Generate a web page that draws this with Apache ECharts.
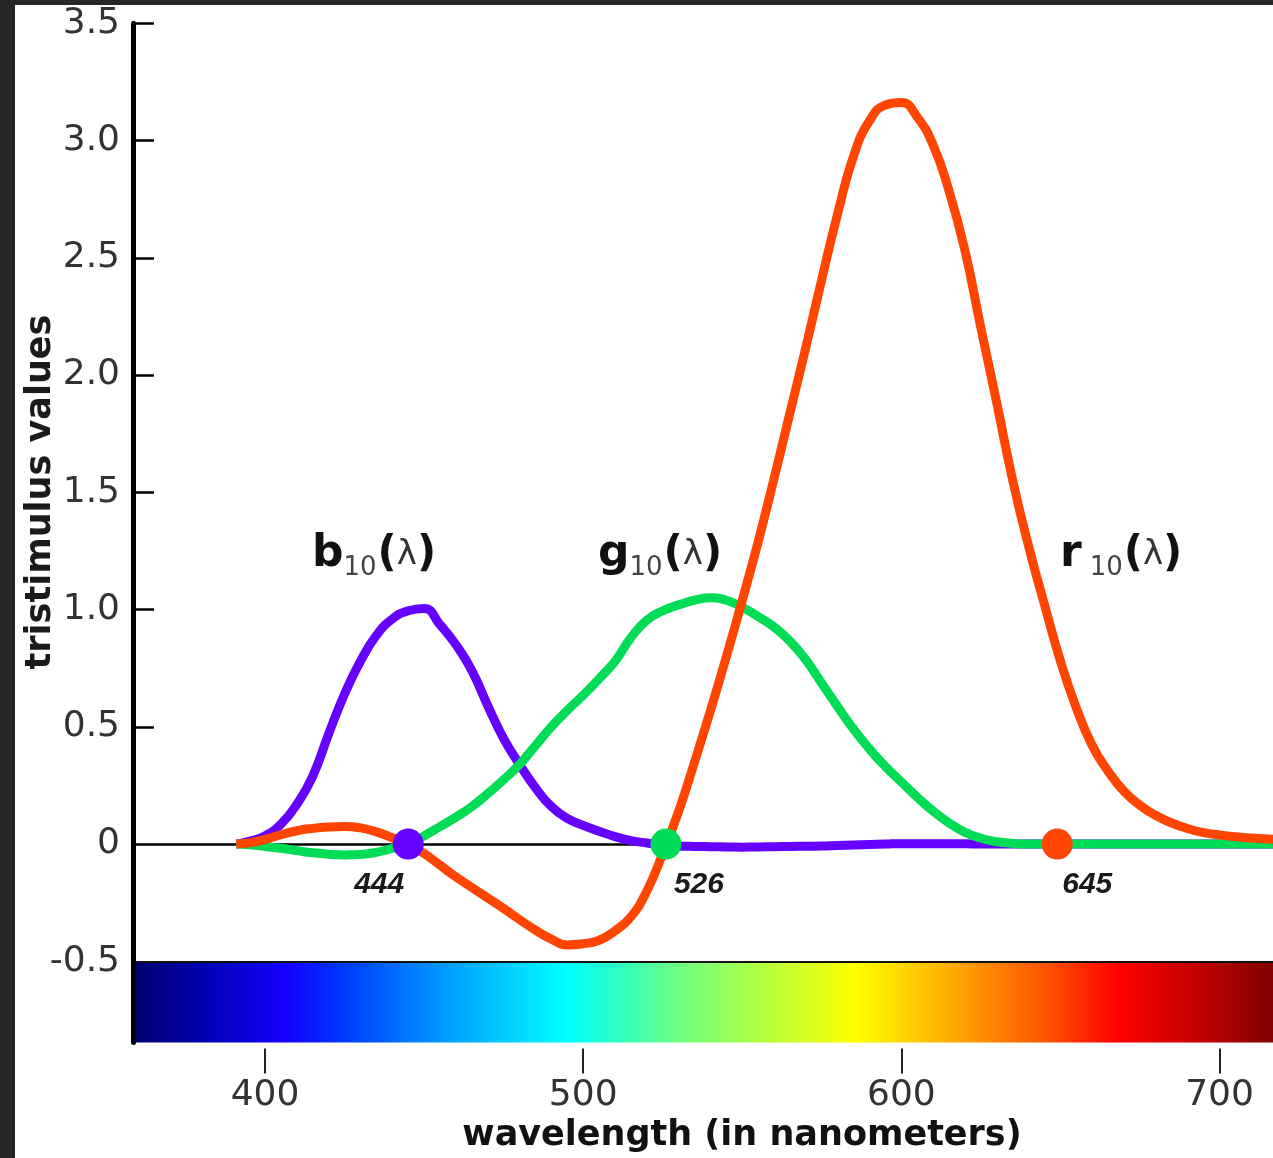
<!DOCTYPE html>
<html><head><meta charset="utf-8">
<script src="https://cdn.jsdelivr.net/npm/echarts@6/dist/echarts.min.js"></script>
<style>
html,body{margin:0;padding:0;background:#272727;width:1273px;height:1158px;overflow:hidden}
#chart{position:absolute;left:15px;top:5px;width:1258px;height:1153px;background:#fff}
</style></head><body><div id="chart"></div>
<script>
// ---- data ----
const wavelengths = [391,395,400,405,410,415,420,425,430,435,440,445,450,455,460,465,470,475,480,485,490,495,500,505,510,515,520,525,530,535,540,545,550,555,560,565,570,575,580,585,590,595,600,605,610,615,620,625,630,635,640,645,650,655,660,665,670,675,680,685,690,695,700,705,710,715,717];
const rValues = [0,0.005,0.02,0.04,0.057,0.067,0.073,0.075,0.069,0.052,
  0.027,0,-0.04,-0.09,-0.14,-0.185,-0.23,-0.275,-0.322,-0.367,
  -0.405,-0.43,-0.425,-0.41,-0.37,-0.31,-0.2,-0.04,0.14,0.35,
  0.57,0.8,1.04,1.29,1.56,1.84,2.12,2.41,2.69,2.935,
  3.085,3.152,3.162,3.1,2.98,2.785,2.53,2.2,1.88,1.55,
  1.27,1.02,0.78,0.58,0.42,0.31,0.225,0.165,0.122,0.09,
  0.066,0.049,0.039,0.031,0.026,0.022,0.021];
const gValues = [0,-0.003,-0.01,-0.018,-0.028,-0.037,-0.043,-0.046,-0.044,-0.035,
  -0.018,0,0.035,0.075,0.115,0.16,0.215,0.275,0.34,0.42,
  0.5,0.57,0.635,0.705,0.78,0.88,0.955,0.995,1.02,1.04,
  1.05,1.04,1.01,0.97,0.925,0.865,0.785,0.685,0.585,0.49,
  0.405,0.33,0.265,0.2,0.14,0.09,0.05,0.025,0.01,0.003,
  0,0,0,0,0,0,0,0,0,0,0,0,0,0,0,0,0];
const bValues = [0,0.012,0.035,0.085,0.17,0.29,0.47,0.64,0.78,0.89,
  0.96,0.995,1.005,0.935,0.85,0.74,0.59,0.45,0.34,0.24,
  0.16,0.11,0.08,0.055,0.032,0.015,0.005,-0.002,-0.008,-0.01,
  -0.011,-0.012,-0.013,-0.012,-0.011,-0.01,-0.009,-0.008,-0.006,-0.004,
  -0.002,0,0.002,0.002,0.002,0.001,0.001,0,0,0,
  0,0,0,0,0,0,0,0,0,0,0,0,0,0,0,0,0];
const markerNm = [445, 526, 649];
const markerLabels = ['444', '526', '645'];
const xTicks = [400, 500, 600, 700];
const yTicks = [-0.5, 0, 0.5, 1.0, 1.5, 2.0, 2.5, 3.0, 3.5];
const spectrumNm = [358.5, 381.7, 406.8, 421.4, 442.4, 458.1, 494.9, 511.6, 530.4, 555.6, 585.7, 617.5, 646.7, 668, 693.8, 716.8];
const spectrumColors = ['#000070','#0000b4','#1400ff','#0030ff','#0070ff','#00a0ff','#00ffff','#30ffc0','#70ff80','#b0ff40','#ffff00','#ffa500','#ff5000','#ff0000','#c00000','#800000'];

// ---- styles ----
const X_MIN = 358.5, X_MAX = 716.8, Y_MIN = -0.846, Y_MAX = 3.5;
const RED = '#ff4500', GREEN = '#00dc55', BLUE = '#6600ff';
const markerColors = [BLUE, GREEN, RED];
const markerOffsets = [[-29, 41], [33, 41], [30, 41]];
const FONT = 'DejaVu Sans';

const chart = echarts.init(document.getElementById('chart'), null, {renderer: 'canvas'});
const pairs = vals => wavelengths.map((w, i) => [w, vals[i]]);
const stops = spectrumNm.map((n, i) => ({offset: (n - X_MIN) / (X_MAX - X_MIN), color: spectrumColors[i]}));

const richFor = (padLeft) => ({
  m: {fontSize: 44, fontWeight: 'bold', fontFamily: FONT, fill: '#111', lineHeight: 52},
  s: {fontSize: 26, fontFamily: FONT, fill: '#444', lineHeight: 16, verticalAlign: 'bottom', padding: [0, 1, 0, padLeft]},
  p: {fontSize: 42, fontWeight: 'bold', fontFamily: FONT, fill: '#111', lineHeight: 52},
  l: {fontSize: 34, fontFamily: FONT, fill: '#333', lineHeight: 52}
});
const annot = (letter, x, pad) => ({
  type: 'text', x: x, y: 550, z: 20,
  style: {text: '{m|' + letter + '}{s|10}{p|(}{l|λ}{p|)}', verticalAlign: 'middle', align: 'left', rich: richFor(pad)}
});

chart.setOption({
  animation: false,
  backgroundColor: '#ffffff',
  grid: {left: 118, right: 0, top: 18.3, bottom: 115.5, containLabel: false},
  xAxis: {
    type: 'value', min: X_MIN, max: X_MAX, offset: 6, z: 10,
    axisLine: {show: false, onZero: false},
    axisTick: {show: true, customValues: xTicks, length: 25, lineStyle: {color: '#222', width: 2}},
    axisLabel: {customValues: xTicks, margin: 29, fontSize: 36, fontFamily: FONT, color: '#333'},
    splitLine: {show: false}
  },
  yAxis: {
    type: 'value', min: Y_MIN, max: Y_MAX, z: 10,
    axisLine: {show: true, onZero: false, lineStyle: {color: '#000', width: 5}},
    axisTick: {show: true, inside: true, customValues: yTicks.filter(v => v > 0), length: 21, lineStyle: {color: '#000', width: 2.5}},
    axisLabel: {customValues: yTicks, margin: 13, fontSize: 36, fontFamily: FONT, color: '#333',
      formatter: v => (Math.abs(v) < 1e-9 ? '0' : v.toFixed(1))},
    splitLine: {show: false}
  },
  series: [
    {
      type: 'line', data: [], z: 1, silent: true,
      markArea: {
        silent: true, z: 0,
        itemStyle: {color: {type: 'linear', x: 0, y: 0, x2: 1, y2: 0, colorStops: stops}},
        data: [[{coord: [X_MIN, Y_MIN]}, {coord: [X_MAX, -0.5]}]]
      },
      markLine: {
        silent: true, z: 1, symbol: ['none', 'none'], label: {show: false},
        data: [
          {yAxis: 0, lineStyle: {color: '#000', width: 2.5, type: 'solid'}},
          {yAxis: -0.5, lineStyle: {color: '#111', width: 2, type: 'solid'}}
        ]
      }
    },
    {type: 'line', name: 'b10', data: pairs(bValues), smooth: 0.5, symbol: 'none', z: 3,
      lineStyle: {color: BLUE, width: 9}},
    {type: 'line', name: 'g10', data: pairs(gValues), smooth: 0.5, symbol: 'none', z: 4,
      lineStyle: {color: GREEN, width: 9}},
    {type: 'line', name: 'r10', data: pairs(rValues), smooth: 0.5, symbol: 'none', z: 5,
      lineStyle: {color: RED, width: 9}},
    {
      type: 'scatter', z: 10, symbol: 'circle', symbolSize: 31,
      itemStyle: {opacity: 1},
      data: markerNm.map((n, i) => ({
        value: [n, 0],
        itemStyle: {color: markerColors[i], opacity: 1},
        label: {show: true, position: 'inside', offset: markerOffsets[i], formatter: markerLabels[i],
          fontSize: 30, fontWeight: 'bold', fontStyle: 'italic', fontFamily: 'Liberation Sans', color: '#1a1a1a', opacity: 1}
      }))
    }
  ],
  graphic: [
    annot('b', 297, 0),
    annot('g', 583, 0),
    annot('r', 1045, 8),
    {type: 'text', x: 727, y: 1131, z: 20,
      style: {text: 'wavelength (in nanometers)', align: 'center', verticalAlign: 'middle',
        font: 'bold 35px "DejaVu Sans"', fill: '#111'}},
    {type: 'text', x: 26, y: 487, rotation: Math.PI / 2, z: 20,
      style: {text: 'tristimulus values', align: 'center', verticalAlign: 'middle',
        font: 'bold 35px "DejaVu Sans"', fill: '#1a1a1a'}}
  ]
});
</script></body></html>
